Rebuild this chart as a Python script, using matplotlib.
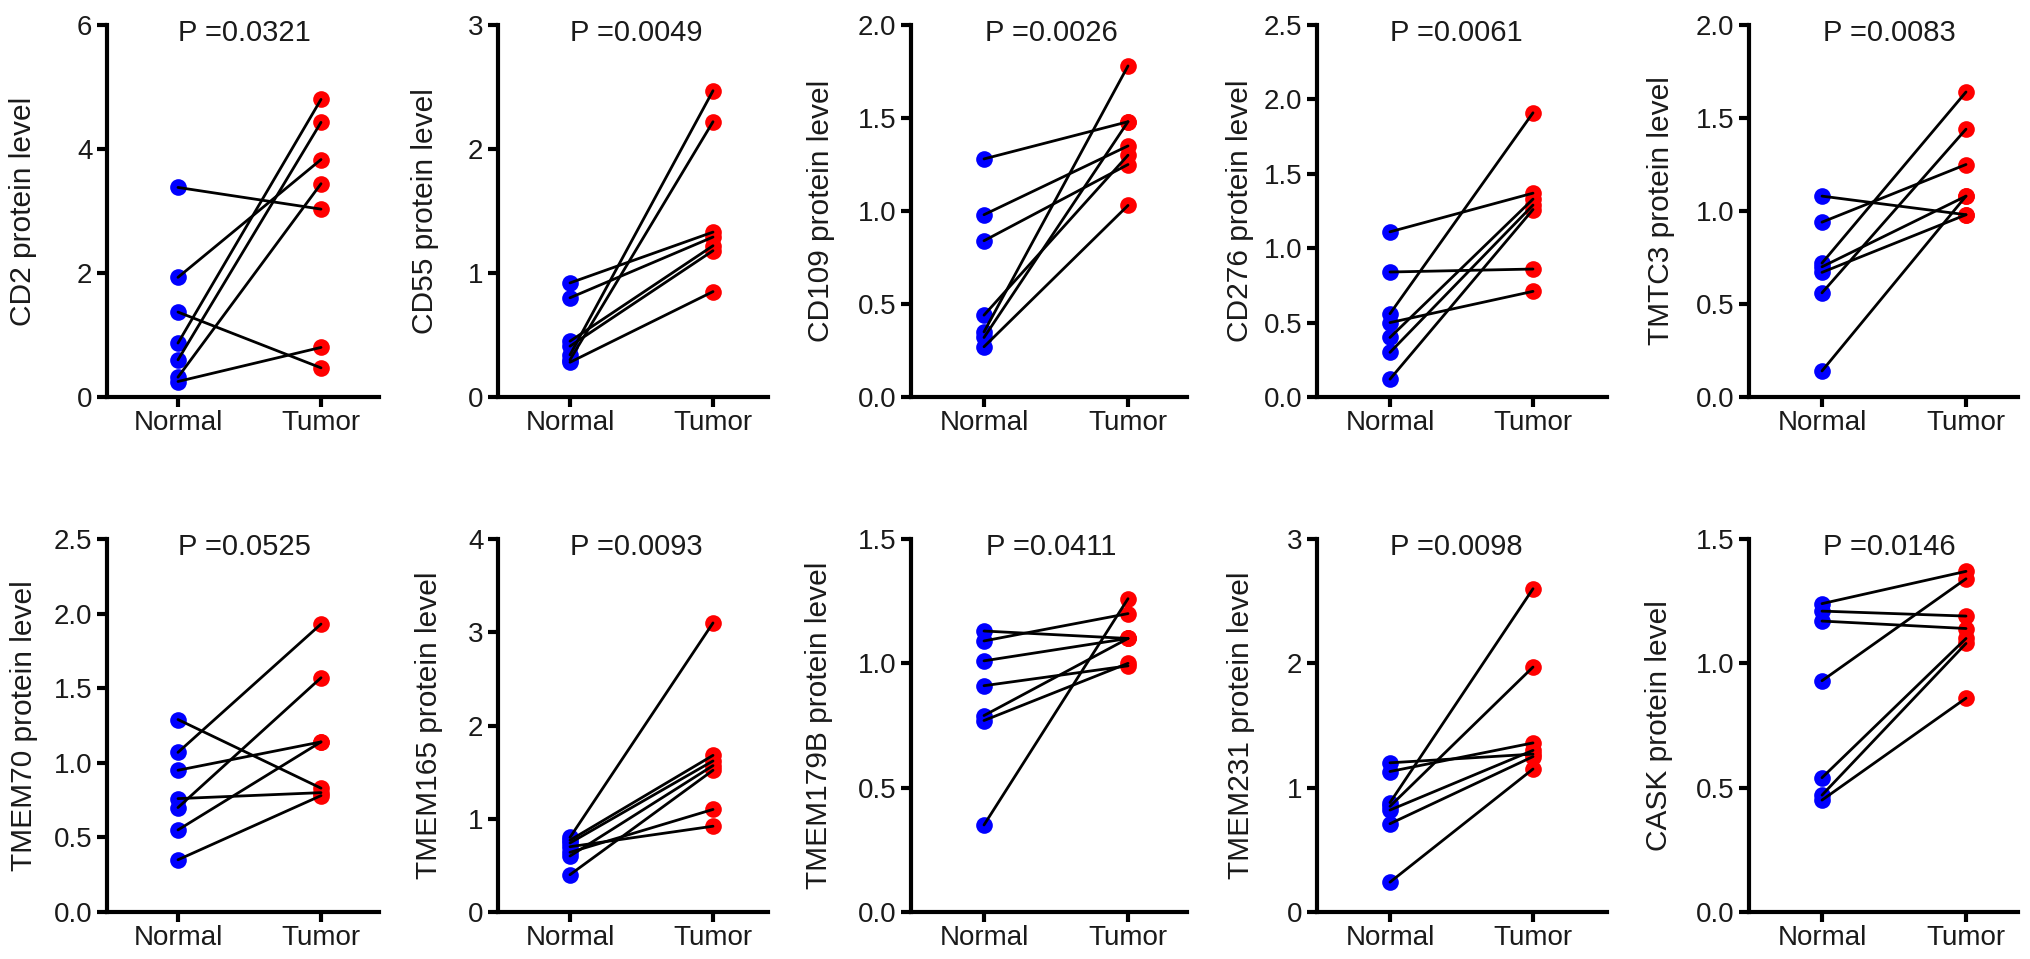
import matplotlib
matplotlib.use("Agg")
import matplotlib.pyplot as plt

plt.rcParams['font.family'] = ['Liberation Sans', 'DejaVu Sans']

# ---------------- data ----------------
genes = ["CD2", "CD55", "CD109", "CD276", "TMTC3",
         "TMEM70", "TMEM165", "TMEM179B", "TMEM231", "CASK"]
p_values = ["0.0321", "0.0049", "0.0026", "0.0061", "0.0083",
            "0.0525", "0.0093", "0.0411", "0.0098", "0.0146"]
groups = ["Normal", "Tumor"]

normal_cd2 = [3.38, 1.93, 1.37, 0.87, 0.60, 0.32, 0.25]
tumor_cd2 = [3.03, 3.83, 0.47, 4.80, 4.43, 3.44, 0.80]

normal_cd55 = [0.92, 0.80, 0.45, 0.41, 0.34, 0.30, 0.28]
tumor_cd55 = [1.33, 1.29, 1.22, 1.18, 2.47, 2.22, 0.85]

normal_cd109 = [1.28, 0.98, 0.84, 0.44, 0.35, 0.32, 0.27]
tumor_cd109 = [1.48, 1.35, 1.25, 1.30, 1.78, 1.48, 1.03]

normal_cd276 = [1.11, 0.84, 0.56, 0.50, 0.40, 0.30, 0.12]
tumor_cd276 = [1.37, 0.86, 1.91, 0.71, 1.33, 1.29, 1.26]

normal_tmtc3 = [1.08, 0.94, 0.72, 0.70, 0.67, 0.56, 0.14]
tumor_tmtc3 = [0.98, 1.25, 1.64, 1.08, 0.98, 1.44, 1.08]

normal_tmem70 = [1.29, 1.07, 0.95, 0.76, 0.70, 0.55, 0.35]
tumor_tmem70 = [0.83, 1.93, 1.14, 0.80, 1.57, 1.14, 0.78]

normal_tmem165 = [0.80, 0.77, 0.74, 0.70, 0.64, 0.60, 0.40]
tumor_tmem165 = [3.10, 1.68, 1.62, 0.92, 1.10, 1.57, 1.52]

normal_tmem179b = [1.13, 1.09, 1.01, 0.91, 0.79, 0.77, 0.35]
tumor_tmem179b = [1.10, 1.20, 1.10, 0.99, 1.10, 1.00, 1.26]

normal_tmem231 = [1.20, 1.13, 0.88, 0.85, 0.82, 0.71, 0.24]
tumor_tmem231 = [1.27, 1.36, 2.60, 1.97, 1.30, 1.25, 1.15]

normal_cask = [1.24, 1.21, 1.17, 0.93, 0.54, 0.47, 0.45]
tumor_cask = [1.37, 1.19, 1.14, 1.34, 1.10, 1.08, 0.86]

normals = [normal_cd2, normal_cd55, normal_cd109, normal_cd276, normal_tmtc3,
           normal_tmem70, normal_tmem165, normal_tmem179b, normal_tmem231, normal_cask]
tumors = [tumor_cd2, tumor_cd55, tumor_cd109, tumor_cd276, tumor_tmtc3,
          tumor_tmem70, tumor_tmem165, tumor_tmem179b, tumor_tmem231, tumor_cask]

y_max = [6, 3, 2.0, 2.5, 2.0, 2.5, 4, 1.5, 3, 1.5]
y_ticks = [[0, 2, 4, 6], [0, 1, 2, 3], [0, 0.5, 1.0, 1.5, 2.0],
           [0, 0.5, 1.0, 1.5, 2.0, 2.5], [0, 0.5, 1.0, 1.5, 2.0],
           [0, 0.5, 1.0, 1.5, 2.0, 2.5], [0, 1, 2, 3, 4], [0, 0.5, 1.0, 1.5],
           [0, 1, 2, 3], [0, 0.5, 1.0, 1.5]]
y_ticklabels = [["0", "2", "4", "6"], ["0", "1", "2", "3"],
                ["0.0", "0.5", "1.0", "1.5", "2.0"],
                ["0.0", "0.5", "1.0", "1.5", "2.0", "2.5"],
                ["0.0", "0.5", "1.0", "1.5", "2.0"],
                ["0.0", "0.5", "1.0", "1.5", "2.0", "2.5"],
                ["0", "1", "2", "3", "4"], ["0.0", "0.5", "1.0", "1.5"],
                ["0", "1", "2", "3"], ["0.0", "0.5", "1.0", "1.5"]]

# ---------------- layout (pixels) ----------------
W, H = 2031, 959
col_left = [107, 498, 911, 1317, 1749]
col_right = [379, 768, 1187, 1607, 2018]
col_normal = [178, 570, 984, 1390, 1822]
col_tumor = [321, 713, 1128, 1533, 1966]
row_top = [25, 539]
row_bottom = [397, 912]
label_offset = [[84, 73, 90, 77, 88], [83, 69, 92, 76, 90]]

TEXT = '#1a1a1a'
fig = plt.figure(figsize=(W / 100, H / 100), dpi=100)

for i in range(10):
    r, c = divmod(i, 5)
    L, R = col_left[c], col_right[c]
    T, B = row_top[r], row_bottom[r]
    ax = fig.add_axes([L / W, (H - B) / H, (R - L) / W, (B - T) / H])
    s = col_tumor[c] - col_normal[c]
    ax.set_xlim(-(col_normal[c] - L) / s, 1 + (R - col_tumor[c]) / s)
    ax.set_ylim(0, y_max[i])

    for n, t in zip(normals[i], tumors[i]):
        ax.plot([0, 1], [n, t], color='black', lw=2.0, zorder=3,
                solid_capstyle='round')
    ax.plot([0] * len(normals[i]), normals[i], 'o', color='#0000ff',
            ms=12, mec='none', zorder=2, clip_on=False)
    ax.plot([1] * len(tumors[i]), tumors[i], 'o', color='#ff0000',
            ms=12, mec='none', zorder=2, clip_on=False)

    for side in ['top', 'right']:
        ax.spines[side].set_visible(False)
    for side in ['left', 'bottom']:
        ax.spines[side].set_linewidth(3.0)
        ax.spines[side].set_color('black')

    ax.set_xticks([0, 1])
    ax.set_xticklabels(groups)
    ax.set_yticks(y_ticks[i])
    ax.set_yticklabels(y_ticklabels[i])
    ax.tick_params(axis='both', width=3.0, length=7.5, color='black',
                   labelsize=20, labelcolor=TEXT)
    ax.tick_params(axis='x', pad=2)
    ax.tick_params(axis='y', pad=3)

    ax.set_ylabel(f"{genes[i]} protein level", fontsize=21.5, color=TEXT)
    ax.yaxis.label.set_verticalalignment('center')
    ax.yaxis.set_label_coords(-label_offset[r][c] / (R - L), 0.5)

    ax.text(0.465, 0.978, "P =" + p_values[i], transform=ax.get_xaxis_transform(),
            ha='center', va='center', fontsize=21, color=TEXT)
    ax.patch.set_visible(False)

fig.savefig("out.png", dpi=100, facecolor='white')
